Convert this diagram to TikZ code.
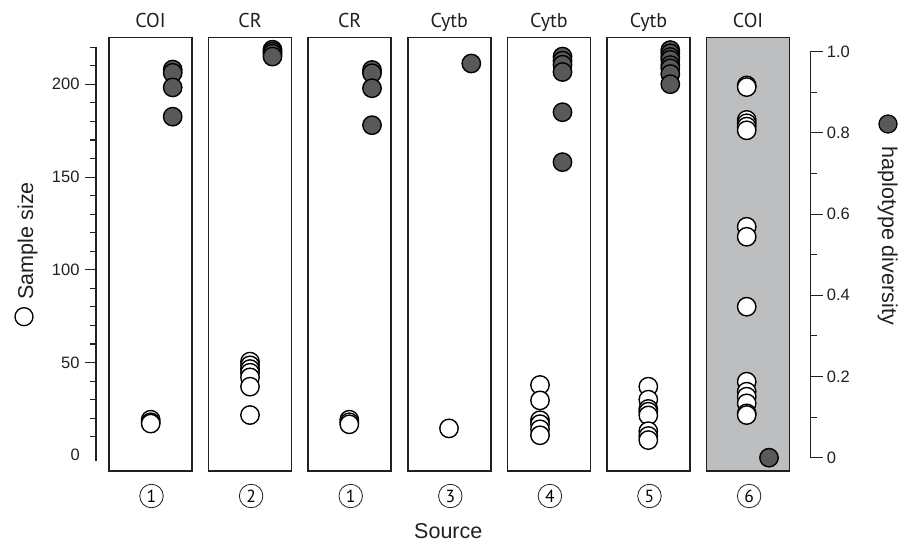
\documentclass[tikz,border=0pt]{standalone}
\usepackage{fontspec}
\setmainfont{Liberation Sans}
\newfontfamily\genefont{PT Sans}
\usetikzlibrary{positioning}
\definecolor{inkblack}{HTML}{231F20}
\definecolor{dotgray}{HTML}{58595B}
\definecolor{panelgray}{HTML}{BCBEC0}
\tikzset{
  panel/.style={draw=inkblack, line width=1.7pt, minimum width=83pt, minimum height=433.5pt, inner sep=0pt},
  axisline/.style={draw=inkblack, line width=1.1pt},
  num/.style={font=\fontsize{16.5}{19}\selectfont, text=inkblack},
  lab/.style={font=\fontsize{21.5}{24}\selectfont, text=inkblack, inner sep=0pt},
  gene/.style={font=\genefont\fontsize{20}{22}\selectfont, text=inkblack, inner sep=0pt},
  srcnum/.style={circle, draw=inkblack, line width=0.8pt, minimum size=23.5pt, inner sep=0pt, font=\genefont\fontsize{17.5}{19}\selectfont},
  ssdot/.style={draw=black, fill=white, line width=1.4pt},
  hddot/.style={draw=black, fill=dotgray, line width=1.4pt}
}

\begin{document}
\begin{tikzpicture}[x=1pt, y=-1pt,
    declare function={ny(\n)=455.3-1.855*\n; hy(\h)=457.7-406*\h;}]
  \useasboundingbox (0,0) rectangle (898,543);
  % panels, marker above, source below
  \foreach \i/\mk/\sn/\pf in {1/COI/1/white, 2/CR/2/white, 3/CR/1/white, 4/Cytb/3/white, 5/Cytb/4/white, 6/Cytb/5/white, 7/COI/6/panelgray}{
    \node[panel, fill=\pf] (p\i) at ({150.5+99.6*(\i-1)},254.25) {};
    \node[gene, anchor=base] (t\i) at ([yshift=9.2pt]p\i.north) {\mk};
    \node[srcnum, below=12pt of p\i, xshift=1pt] (s\i) {\sn};
  }
  \node[lab, anchor=base] (src) at ([xshift=-2pt, yshift=-42.5pt]s4.center) {Source};

  % left axis: sample size
  \draw[axisline] (96,{ny(-3)}) -- (96,{ny(220)});
  \foreach \n in {10,20,...,220} \draw[axisline] (96,{ny(\n)}) -- ++(-6,0);
  \foreach \n in {50,100,150,200} \draw[axisline] (96,{ny(\n)}) -- ++(-11,0) node[num, left, inner sep=5pt] (l\n) {\n};
  \node[num, left, inner sep=0pt] (l0) at (80,{ny(0)}) {0};

  % right axis: haplotype diversity
  \draw[axisline] (823.4,{hy(1)}) -- (810.7,{hy(1)}) -- (810.7,{hy(0)}) -- (823.4,{hy(0)});
  \foreach \h in {0.1,0.3,0.5,0.7,0.9} \draw[axisline] (810.7,{hy(\h)}) -- ++(6,0);
  \foreach \h in {0.2,0.4,0.6,0.8} \draw[axisline] (810.7,{hy(\h)}) -- ++(12.7,0);
  \foreach \h/\t [count=\k] in {0/0,0.2/0.2,0.4/0.4,0.6/0.6,0.8/0.8,1/1.0} \node[num, right, inner sep=3.3pt] (r\k) at (823.4,{hy(\h)}) {\t};

  % data: open dots = sample size, filled dots = haplotype diversity
  \foreach \sx/\slist/\hx/\hlist in {
      150.7/{19.2,17.8,17.1}/172.7/{0.956,0.948,0.912,0.840},
      250/{50.5,48.5,46.5,44.5,42,37,21.7}/272.5/{1.005,1.0,0.995,0.988},
      349.3/{19.2,17.8,16.7}/372/{0.955,0.947,0.910,0.819},
      449/{14.5}/471.3/{0.971},
      540/{37.9,29.6,18.9,16.8,14,10.8}/562.5/{0.988,0.978,0.968,0.950,0.851,0.728},
      648.3/{37,30,25,23.5,21.5,13,10.4,8.2}/670.3/{1.004,0.996,0.987,0.980,0.967,0.959,0.945,0.920},
      746.7/{199.4,198.5,180.8,179,177.2,175.2,123.2,117.8,80.1,39.7,34.3,31.6,28,22.6,21.7}/769/{0}}{
    \foreach \n in \slist \draw[ssdot] (\sx,{ny(\n)}) circle[radius=9.2pt];
    \foreach \h in \hlist \draw[hddot] (\hx,{hy(\h)}) circle[radius=9.2pt];
  }

  % axis titles with their keys
  \node[lab, rotate=90, anchor=base] (sslab) at (33,240.8) {Sample size};
  \draw[ssdot, line width=1.3pt] (24,316.7) circle[radius=9pt];
  \node[lab, rotate=-90, anchor=base] (hdlab) at (882,235.8) {haplotype diversity};
  \draw[hddot, line width=1.3pt] (888,124) circle[radius=9pt];
\end{tikzpicture}
\end{document}
